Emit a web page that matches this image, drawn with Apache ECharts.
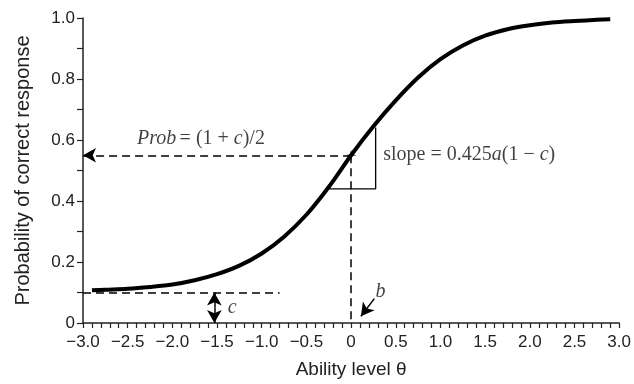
<!DOCTYPE html>
<html><head><meta charset="utf-8">
<script src="https://cdn.jsdelivr.net/npm/echarts@6/dist/echarts.min.js"></script>
<style>html,body{margin:0;padding:0;background:#fff}#c{width:634px;height:384px}</style>
</head><body><div id="c"></div>
<script>
// Item characteristic curve
const theta = [-2.9,-2.75,-2.5,-2.25,-2.0,-1.75,-1.5,-1.25,-1.0,-0.75,-0.5,-0.25,0,0.25,0.5,0.75,1.0,1.25,1.5,1.75,2.0,2.25,2.5,2.75,2.9];
const prob  = [0.107,0.109,0.112,0.118,0.126,0.140,0.160,0.188,0.228,0.283,0.355,0.446,0.550,0.645,0.730,0.805,0.865,0.910,0.942,0.963,0.976,0.985,0.990,0.994,0.996];
// annotation values
const cValue = 0.1;          // lower asymptote
const bValue = 0;            // difficulty
const probAtB = 0.55;        // (1+c)/2
const slopeLeft = [-0.245, 0.44];
const slopeRight = [0.275, 0.641];
const cLineEnd = -0.8;
const cArrowX = -1.53;
const bArrowFrom = [0.26, 0.08];
const bArrowTo = [0.11, 0.022];

const font = '"Liberation Sans", Arial, sans-serif';
const serif = '"Liberation Serif", "Times New Roman", serif';
const fmt = v => {
  const t = Math.round(v*10);
  if (t === 0) return '0';
  return (t < 0 ? '\u2212' : '') + (Math.abs(t)/10).toFixed(1);
};

const chart = echarts.init(document.getElementById('c'), null, {renderer:'canvas'});
chart.setOption({
  animation:false,
  grid:{left:83,right:13,top:18,bottom:59,containLabel:false},
  xAxis:{
    type:'value', min:-3, max:3, interval:0.1,
    name:'Ability level \u03b8', nameLocation:'middle', nameGap:37,
    nameTextStyle:{fontFamily:font,fontSize:19,color:'#222'},
    axisLine:{onZero:false,lineStyle:{color:'#222',width:1.5}},
    axisTick:{show:true,inside:false,length:5,lineStyle:{color:'#222',width:1.2}},
    axisLabel:{margin:11,fontFamily:font,fontSize:17,color:'#222',
      formatter:v=>{const t=Math.round(v*10);return (t%5===0)?fmt(v):'';}},
    splitLine:{show:false}
  },
  yAxis:{
    type:'value', min:0, max:1, interval:0.1,
    name:'Probability of correct response', nameLocation:'middle', nameGap:50, nameRotate:90,
    nameTextStyle:{fontFamily:font,fontSize:20,color:'#222'},
    axisLine:{show:true,onZero:false,lineStyle:{color:'#222',width:1.5}},
    axisTick:{show:true,inside:false,length:6,lineStyle:{color:'#222',width:1.2}},
    axisLabel:{margin:8,fontFamily:font,fontSize:17,color:'#222',
      formatter:v=>{const t=Math.round(v*10);return (t%2===0)?fmt(v):'';}},
    splitLine:{show:false}
  },
  series:[
    {type:'line', data:theta.map((t,i)=>[t,prob[i]]), smooth:0.3, showSymbol:false,
     lineStyle:{color:'#000',width:4}, z:5},
    // slope triangle
    {type:'line', data:[slopeLeft,[slopeRight[0],slopeLeft[1]],slopeRight], showSymbol:false,
     lineStyle:{color:'#000',width:1.3}, z:4},
    // dashed guides with arrows
    {type:'line', data:[], markLine:{silent:true, symbol:['none','arrow'], symbolSize:[11,13],
      label:{show:false},
      data:[
        [{coord:[bValue,probAtB],lineStyle:{type:[8,5],width:1.5,color:'#000'}},{coord:[-3,probAtB]}],
        [{coord:[cArrowX,cValue/2],lineStyle:{type:'solid',width:1.5,color:'#000'}},{coord:[cArrowX,0]}],
        [{coord:[cArrowX,cValue/2],lineStyle:{type:'solid',width:1.5,color:'#000'}},{coord:[cArrowX,cValue]}],
        [{coord:bArrowFrom,lineStyle:{type:'solid',width:1.5,color:'#000'},symbolSize:[9,10]},{coord:bArrowTo}]
      ]}},
    {type:'line', data:[], markLine:{silent:true, symbol:['none','none'], label:{show:false},
      data:[
        [{coord:[bValue,probAtB],lineStyle:{type:[8,5],width:1.5,color:'#000'}},{coord:[bValue,0]}],
        [{coord:[-3,cValue],lineStyle:{type:[8,5],width:1.5,color:'#000'}},{coord:[cLineEnd,cValue]}]
      ]}},
    // star marker and labels
    {type:'scatter', data:[[bValue,probAtB]], symbol:'path://M0,-10 L2,-2 L10,0 L2,2 L0,10 L-2,2 L-10,0 L-2,-2 Z',
     symbolSize:11, itemStyle:{color:'#000'}, z:6},
    {type:'scatter', symbolSize:0, silent:true, z:7,
     data:[
       {value:[-1.68,0.603], label:{show:true, position:'inside', formatter:'{i|Prob} {n|= (1 + }{i|c}{n|)/2}'}},
       {value:[0.36,0.553], label:{show:true, position:'inside', align:'left', formatter:'{n|slope = 0.425}{i|a}{n|(1 \u2212 }{i|c}{n|)}'}},
       {value:[-1.33,0.05], label:{show:true, position:'inside', formatter:'{i|c}'}},
       {value:[0.33,0.104], label:{show:true, position:'inside', formatter:'{i|b}'}}
     ],
     label:{rich:{
       i:{fontFamily:serif,fontStyle:'italic',fontSize:20,color:'#111'},
       n:{fontFamily:serif,fontSize:20,color:'#111'}
     }}}
  ]
});
</script></body></html>
